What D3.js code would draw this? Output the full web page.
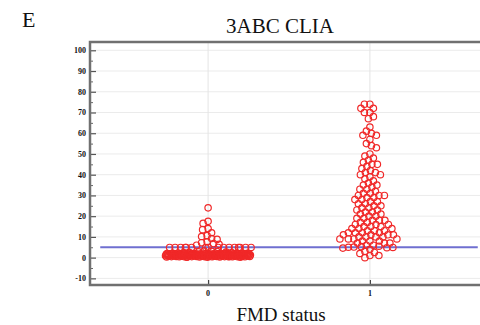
<!DOCTYPE html>
<html><head><meta charset="utf-8">
<script src="https://cdn.jsdelivr.net/npm/d3@7"></script>
<style>body{margin:0;background:#fff;overflow:hidden}</style>
</head><body>
<svg id="c" width="480" height="325"></svg>
<script>
const categories = ["0", "1"];
const yTicks = [-10,0,10,20,30,40,50,60,70,80,90,100];
const cutoff = 5;
// Group 0 (FMD negative): outliers, row near cutoff, dense block near zero
const group0 = [24, 17.5, 16.5, 14, 13.5, 12, 10.6, 10.2, 9.2, 8.8, 7.6, 7.2, 6.8, 6.4, 6.0,
  4.9,4.9,4.9,4.9,4.9,4.9,4.9,4.9,4.9,4.9,4.9,4.9,4.9,4.9,4.9,4.9,
  2.2,2.2,2.1,2.1,2.1,2.0,2.0,2.0,2.0,1.9,1.9,1.9,1.9,1.9,1.8,1.8,1.8,1.8,1.8,1.7,1.7,1.7,1.7,1.7,1.7,
  1.6,1.6,1.6,1.6,1.6,1.6,1.5,1.5,1.5,1.5,1.5,1.5,1.5,1.4,1.4,1.4,1.4,1.4,1.4,1.4,1.3,1.3,1.3,1.3,1.3,1.3,1.3,
  1.2,1.2,1.2,1.2,1.2,1.2,1.2,1.1,1.1,1.1,1.1,1.1,1.1,1.1,1.0,1.0,1.0,1.0,1.0,1.0,1.0,1.0,
  0.9,0.9,0.9,0.9,0.9,0.9,0.9,0.8,0.8,0.8,0.8,0.8,0.8,0.8,0.7,0.7,0.7,0.7,0.7,0.7,0.6,0.6,0.6,0.6,0.6,0.6,
  0.5,0.5,0.5,0.5,0.5,0.4,0.4,0.4,0.4,0.3,0.3,0.3,0.3,0.2,0.2,0.2,
  2.0,1.8,1.6,1.4,1.2,1.0,0.8,0.6,0.4,1.9,1.7,1.5,1.3,1.1,0.9,0.7,0.5,1.5,1.2,1.0,
  3.0,2.8,2.6,2.5,2.4,3.2,2.9,2.7];
// Group 1 (FMD positive)
const group1 = [74,74,72,72,70,70,68,67,
  63,61,60,59,59,57,55,54,53,
  50,49,48,47,46,45,45,
  44,43,42,41,41,40,40,39,
  38,37,36,35,35,34,33,33,
  32,31,31,30,30,30,29,29,28,28,27,27,
  26,26,25,25,24,24,23,23,22,22,21,21,20,20,
  19,19,18,18,18,17,17,16,16,16,15,15,15,14,14,14,
  13,13,13,12,12,12,12,11,11,11,11,10,10,10,10,9,9,9,9,8,8,8,7,7,7,6,6,
  5.5,5.3,5.1,5,4.9,4.8,4.6,
  4,3,2.5,2,1,1,0];
const groups = [group0, group1];

const svg = d3.select("#c");
const pL = 90, pR = 488, pT = 42, pB = 285;
const x = d3.scaleLinear().domain([-0.73, 1.73]).range([pL, pR]);
const y = d3.scaleLinear().domain([-13.2, 104]).range([pB, pT]);

// gridlines
svg.append("g").selectAll("line").data(yTicks).join("line")
  .attr("x1", pL).attr("x2", pR).attr("y1", d=>y(d)).attr("y2", d=>y(d))
  .attr("stroke", "#ebebeb").attr("stroke-width", 1);
svg.append("g").selectAll("line").data([0,1]).join("line")
  .attr("x1", d=>x(d)).attr("x2", d=>x(d)).attr("y1", pT).attr("y2", pB)
  .attr("stroke", "#e4e4e4").attr("stroke-width", 1);

// y axis ticks (inside)
const yAxis = d3.axisRight(y).tickValues(yTicks).tickSize(6).tickFormat("");
svg.append("g").attr("transform", `translate(${pL},0)`).call(yAxis)
  .call(g=>g.select(".domain").remove())
  .call(g=>g.selectAll("line").attr("stroke","#555").attr("stroke-width",1.2));
const yMinor = d3.axisRight(y).tickValues(d3.range(-5, 100, 10)).tickSize(3).tickFormat("");
svg.append("g").attr("transform", `translate(${pL},0)`).call(yMinor)
  .call(g=>g.select(".domain").remove())
  .call(g=>g.selectAll("line").attr("stroke","#666").attr("stroke-width",1));
svg.append("g").selectAll("text").data(yTicks).join("text")
  .attr("x", pL-4).attr("y", d=>y(d)+3).attr("text-anchor","end")
  .attr("font-family","Liberation Serif").attr("font-weight","bold").attr("font-size",8)
  .attr("fill","#111").text(d=>d);

// x axis ticks
const xAxis = d3.axisTop(x).tickValues([0,1]).tickSize(5).tickFormat("");
svg.append("g").attr("transform", `translate(0,${pB})`).call(xAxis)
  .call(g=>g.select(".domain").remove())
  .call(g=>g.selectAll("line").attr("stroke","#444").attr("stroke-width",1.2));
svg.append("g").selectAll("text").data(categories).join("text")
  .attr("x", (d,i)=>x(i)).attr("y", 296).attr("text-anchor","middle")
  .attr("font-family","Liberation Serif").attr("font-weight","bold").attr("font-size",8)
  .attr("fill","#111").text(d=>d);

// swarm layout
const r = 3.2, dmin = 5.2, cap = 43;
function swarm(vals, cx) {
  const sorted = vals.slice().sort((a,b)=>b-a);
  const placed = [];
  let k = 0;
  const out = [];
  for (const v of sorted) {
    const py = y(v);
    let found = null;
    for (let s = 0; s <= cap + 0.01 && found === null; s += 0.5) {
      for (const sx of (s === 0 ? [0] : [-s, s])) {
        const ok = placed.every(p => (p.x - sx)**2 + (p.y - py)**2 >= dmin*dmin);
        if (ok) { found = sx; break; }
      }
    }
    if (found === null) {
      k++;
      found = -cap + ((k * 0.6180339887) % 1) * 2 * cap;
    } else {
      placed.push({x: found, y: py});
    }
    out.push({x: cx + found, y: py, v});
  }
  return out;
}

// cutoff line
svg.append("line").attr("x1", x(-2/3)).attr("x2", x(5/3))
  .attr("y1", y(cutoff)).attr("y2", y(cutoff))
  .attr("stroke", "#6f6fd0").attr("stroke-width", 2);

groups.forEach((vals, i) => {
  const pts = swarm(vals, x(i));
  svg.append("g").selectAll("circle").data(pts).join("circle")
    .attr("cx", d=>d.x).attr("cy", d=>d.y).attr("r", r)
    .attr("fill", "none").attr("stroke", "#f02828").attr("stroke-width", 1.2);
});

// frame
svg.append("path")
  .attr("d", `M${pR},${pT}H${pL}V${pB}H${pR}`)
  .attr("fill","none").attr("stroke","#707070").attr("stroke-width",2.5);

// texts
svg.append("text").attr("x", 22).attr("y", 27).attr("font-family","Liberation Serif")
  .attr("font-size", 22).attr("fill","#111").text("E");
svg.append("text").attr("x", 280).attr("y", 33).attr("text-anchor","middle")
  .attr("font-family","Liberation Serif").attr("font-size", 21).attr("fill","#111").text("3ABC CLIA");
svg.append("text").attr("x", 281).attr("y", 321).attr("text-anchor","middle")
  .attr("font-family","Liberation Serif").attr("font-size", 19).attr("fill","#111").text("FMD status");
</script>
</body></html>
